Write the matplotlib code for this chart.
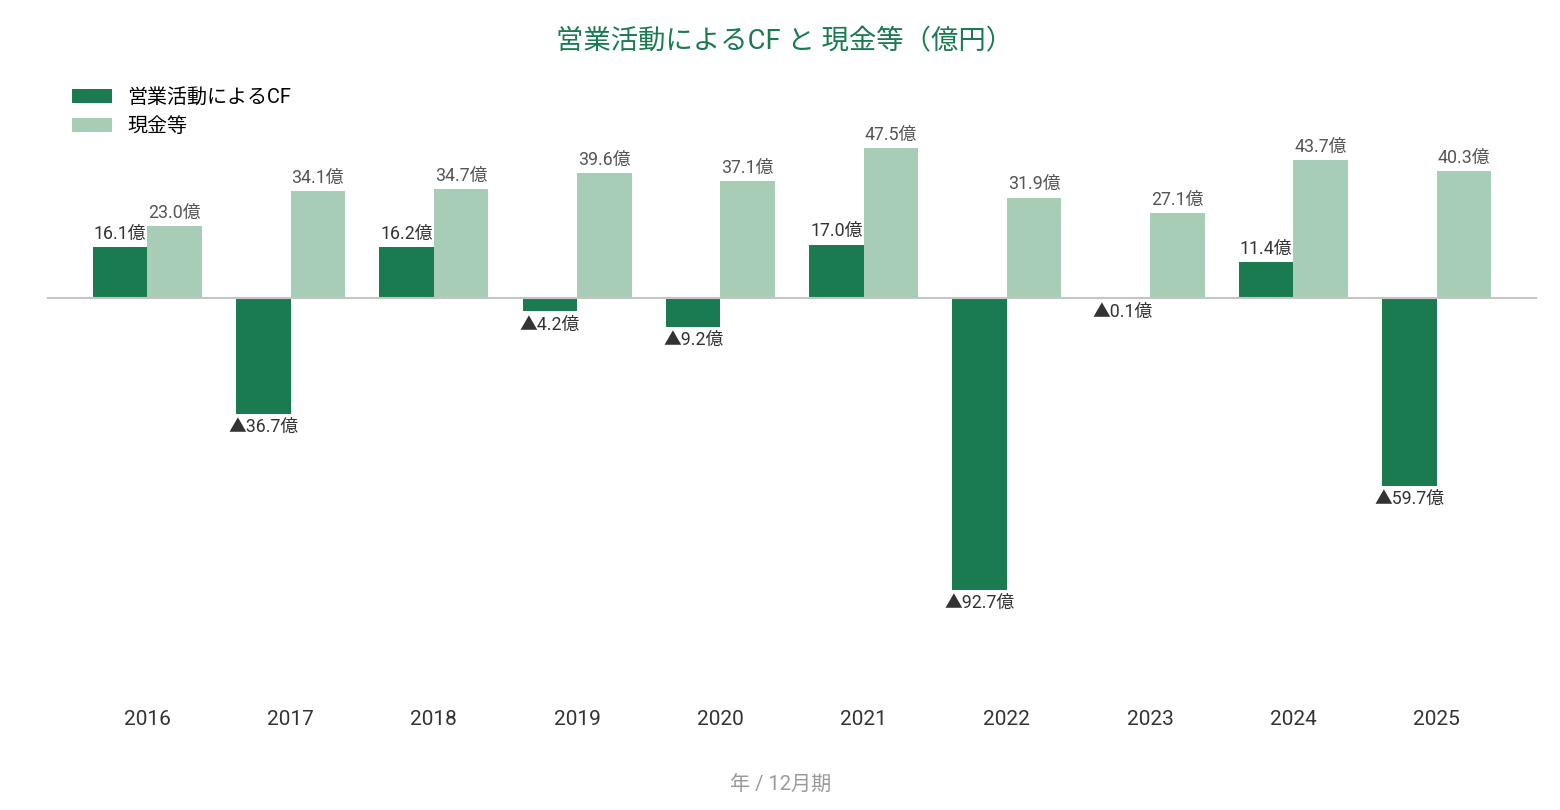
import matplotlib.pyplot as plt
import numpy as np

plt.rcParams['font.family'] = ['Roboto', 'Noto Sans CJK JP', 'DejaVu Sans']

years = ["2016", "2017", "2018", "2019", "2020", "2021", "2022", "2023", "2024", "2025"]
cf = [16.1, -36.7, 16.2, -4.2, -9.2, 17.0, -92.7, -0.1, 11.4, -59.7]
cash = [23.0, 34.1, 34.7, 39.6, 37.1, 47.5, 31.9, 27.1, 43.7, 40.3]

dark = "#1b7b50"
light = "#a8cdb6"

def fmt(v):
    if v < 0:
        return "▲{:.1f}億".format(-v)
    return "{:.1f}億".format(v)

fig = plt.figure(figsize=(15.6, 8.1), dpi=100)
ax = fig.add_axes([47 / 1560, 110 / 810, 1490 / 1560, 590 / 810])

x = np.arange(len(years))
w = 0.38
b1 = ax.bar(x - w / 2, cf, w, color=dark, label="営業活動によるCF", zorder=2)
b2 = ax.bar(x + w / 2, cash, w, color=light, label="現金等", zorder=2)

ax.axhline(0, color="#c4c4c4", lw=1.5, zorder=3)

for xi, v in zip(x - w / 2, cf):
    if v >= 0:
        ax.annotate(fmt(v), (xi, v), xytext=(0, 3), textcoords="offset points",
                    ha="center", va="bottom", fontsize=12.8, color="#333333")
    else:
        ax.annotate(fmt(v), (xi, v), xytext=(0, -3), textcoords="offset points",
                    ha="center", va="top", fontsize=12.8, color="#333333")
for xi, v in zip(x + w / 2, cash):
    ax.annotate(fmt(v), (xi, v), xytext=(0, 3), textcoords="offset points",
                ha="center", va="bottom", fontsize=12.8, color="#555555")

ax.set_xlim(-0.7, 9.7)
ax.set_ylim(-127.6, 59.7)
ax.set_xticks(x)
ax.set_xticklabels(years, fontsize=15, color="#333333")
ax.tick_params(axis="x", length=0, pad=7)
ax.set_yticks([])
for s in ax.spines.values():
    s.set_visible(False)

fig.text(785 / 1560, 1 - 42 / 810, "営業活動によるCF と 現金等（億円）", ha="center", va="center",
         fontsize=19.7, color=dark)
fig.text(781 / 1560, 1 - 785 / 810, "年 / 12月期", ha="center", va="center",
         fontsize=14.5, color="#999999")

fig.legend(handles=[b1, b2], loc="upper left", bbox_to_anchor=(54 / 1560, 1 - 70 / 810),
           frameon=False, fontsize=14.4, handlelength=2.0, handleheight=0.7,
           handletextpad=0.75, labelspacing=0.5)

fig.savefig("out.png", dpi=100)
